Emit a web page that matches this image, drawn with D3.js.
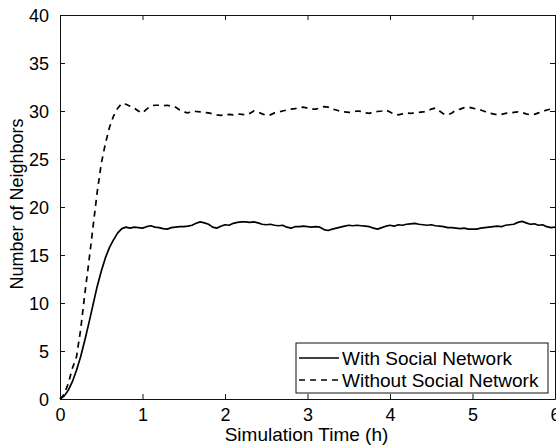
<!DOCTYPE html>
<html>
<head>
<meta charset="utf-8">
<script src="https://cdn.jsdelivr.net/npm/d3@7"></script>
<style>
  html, body { margin: 0; padding: 0; background: #fff; }
  text { font-family: "Liberation Sans", Arial, Helvetica, sans-serif; fill: #000; }
</style>
</head>
<body>
<svg id="chart" width="556" height="446"></svg>
<script>
// ---- data ----
const xTicks = [0, 1, 2, 3, 4, 5, 6];
const yTicks = [0, 5, 10, 15, 20, 25, 30, 35, 40];
const xLabel = "Simulation Time (h)";
const yLabel = "Number of Neighbors";
const seriesNames = ["With Social Network", "Without Social Network"];

const timeH = [0,0.05,0.1,0.15,0.2,0.25,0.3,0.35,0.4,0.45,0.5,0.55,0.6,0.65,0.7,0.75,0.8,0.85,0.9,0.95,
 1,1.05,1.1,1.15,1.2,1.25,1.3,1.35,1.4,1.45,1.5,1.55,1.6,1.65,1.7,1.75,1.8,1.85,1.9,1.95,
 2,2.05,2.1,2.15,2.2,2.25,2.3,2.35,2.4,2.45,2.5,2.55,2.6,2.65,2.7,2.75,2.8,2.85,2.9,2.95,
 3,3.05,3.1,3.15,3.2,3.25,3.3,3.35,3.4,3.45,3.5,3.55,3.6,3.65,3.7,3.75,3.8,3.85,3.9,3.95,
 4,4.05,4.1,4.15,4.2,4.25,4.3,4.35,4.4,4.45,4.5,4.55,4.6,4.65,4.7,4.75,4.8,4.85,4.9,4.95,
 5,5.05,5.1,5.15,5.2,5.25,5.3,5.35,5.4,5.45,5.5,5.55,5.6,5.65,5.7,5.75,5.8,5.85,5.9,5.95,6];

const withSocial = [0,0.3,0.9,1.8,3.0,4.4,6.1,7.9,9.8,11.7,13.3,14.7,15.8,16.6,17.3,17.75,17.9,17.8,17.9,17.85,
 17.8,17.95,18.05,17.9,17.85,17.75,17.7,17.85,17.9,17.95,17.95,18.0,18.1,18.3,18.45,18.35,18.2,17.9,17.8,18.0,
 18.15,18.1,18.3,18.4,18.45,18.45,18.4,18.45,18.35,18.2,18.15,18.2,18.1,18.05,18.1,17.9,17.8,17.95,17.95,18.0,
 17.95,17.9,17.95,17.9,17.65,17.55,17.7,17.8,17.9,18.0,18.1,18.05,18.1,18.05,18.0,17.95,17.8,17.7,17.85,18.0,
 18.1,18.0,18.15,18.1,18.2,18.25,18.3,18.2,18.15,18.1,18.15,18.05,18.0,17.95,17.85,17.85,17.8,17.75,17.8,17.7,
 17.7,17.7,17.8,17.85,17.9,17.95,18.0,17.95,18.1,18.15,18.2,18.4,18.5,18.35,18.2,18.25,18.1,18.15,17.95,17.85,17.9];

const withoutSocial = [0,0.5,1.6,3.2,4.4,7.2,10.9,14.3,17.9,21.5,24.5,26.6,28.3,29.5,30.3,30.8,30.7,30.5,30.3,30.0,
 29.8,30.2,30.5,30.6,30.6,30.55,30.6,30.5,30.4,30.1,29.9,29.8,30.0,29.95,29.9,29.85,29.8,29.7,29.6,29.55,
 29.6,29.65,29.6,29.7,29.65,29.6,29.75,30.0,29.9,29.7,29.55,29.6,29.8,29.9,30.0,30.1,30.2,30.25,30.35,30.4,
 30.3,30.2,30.2,30.3,30.45,30.4,30.2,30.1,29.95,29.9,29.85,29.9,30.0,29.95,29.8,29.75,29.9,29.95,30.0,30.1,
 29.9,29.65,29.6,29.7,29.8,29.75,29.8,29.85,29.9,30.0,30.2,30.3,30.0,29.7,29.6,29.8,30.1,30.2,30.35,30.4,
 30.3,30.2,30.1,29.95,29.8,29.7,29.6,29.65,29.75,29.8,29.85,29.9,29.85,29.7,29.6,29.65,29.8,29.95,30.1,30.2,30.2];

// ---- layout ----
const svg = d3.select("#chart");
const L = 60, R = 555, T = 15, B = 399;
const x = d3.scaleLinear().domain([0, 6]).range([L, R]);
const y = d3.scaleLinear().domain([0, 40]).range([B, T]);
const FS = 19;      // axis labels and legend
const TFS = 18;     // tick labels
const tickLen = 5;
const axisColor = "#111";
const fmt = d3.format("d");

// lines
const line = d3.line().x((d, i) => x(timeH[i])).y(d => y(d));
svg.append("path").datum(withSocial)
  .attr("d", line).attr("fill", "none").attr("stroke", "#000")
  .attr("stroke-width", 1.7).attr("stroke-linejoin", "round");
svg.append("path").datum(withoutSocial)
  .attr("d", line).attr("fill", "none").attr("stroke", "#000")
  .attr("stroke-width", 1.7).attr("stroke-dasharray", "6,5");

// axes box with inward ticks on all sides
const bottomAxis = d3.axisBottom(x).tickValues(xTicks).tickFormat(fmt).tickSizeInner(-tickLen).tickSizeOuter(0);
const leftAxis = d3.axisLeft(y).tickValues(yTicks).tickFormat(fmt).tickSizeInner(-tickLen).tickSizeOuter(0);
const topAxis = d3.axisTop(x).tickValues(xTicks).tickSizeInner(-tickLen).tickSizeOuter(0).tickFormat("");
const rightAxis = d3.axisRight(y).tickValues(yTicks).tickSizeInner(-tickLen).tickSizeOuter(0).tickFormat("");

const gB = svg.append("g").attr("transform", `translate(0,${B})`).call(bottomAxis);
const gL = svg.append("g").attr("transform", `translate(${L},0)`).call(leftAxis);
const gT = svg.append("g").attr("transform", `translate(0,${T})`).call(topAxis);
const gR = svg.append("g").attr("transform", `translate(${R},0)`).call(rightAxis);
[gB, gL, gT, gR].forEach(g => {
  g.selectAll("path.domain").attr("stroke", axisColor).attr("stroke-width", 1);
  g.selectAll(".tick line").attr("stroke", axisColor).attr("stroke-width", 1);
  g.selectAll("text").style("font-family", '"Liberation Sans", Arial, sans-serif')
    .style("font-size", TFS + "px").attr("fill", "#000");
});
gB.selectAll(".tick text").attr("dy", null).attr("y", 22);
gL.selectAll(".tick text").attr("x", -11).attr("dy", "0.35em");

// axis labels
svg.append("text").attr("x", (L + R) / 2 - 1).attr("y", 441)
  .attr("text-anchor", "middle").style("font-size", FS + "px").text(xLabel);
svg.append("text").attr("transform", `translate(23,${(T + B) / 2 - 3}) rotate(-90)`)
  .attr("text-anchor", "middle").style("font-size", "18px").text(yLabel);

// legend
const lg = svg.append("g");
lg.append("rect").attr("x", 296).attr("y", 343).attr("width", 252).attr("height", 50)
  .attr("fill", "#fff").attr("stroke", axisColor).attr("stroke-width", 1);
const rowsY = [358, 380];
const dashes = [null, "6,5"];
seriesNames.forEach((name, i) => {
  lg.append("line").attr("x1", 299).attr("x2", 339).attr("y1", rowsY[i]).attr("y2", rowsY[i])
    .attr("stroke", "#000").attr("stroke-width", 1.7).attr("stroke-dasharray", dashes[i]);
  lg.append("text").attr("x", 342).attr("y", rowsY[i] + 7)
    .style("font-size", FS + "px").text(name);
});
</script>
</body>
</html>
